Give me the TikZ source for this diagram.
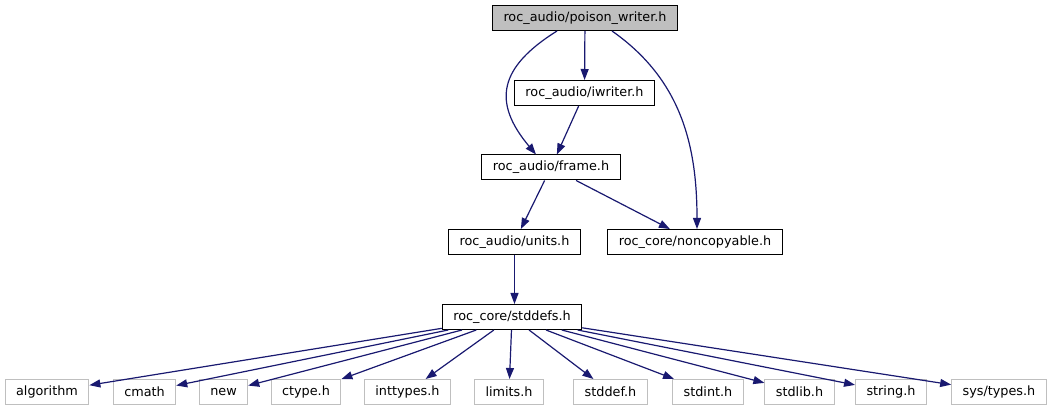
\documentclass[tikz,border=0pt]{standalone}
\usepackage{fontspec}
\setmainfont{DejaVu Sans}
\usetikzlibrary{arrows.meta,positioning}
\definecolor{edgeblue}{RGB}{25,25,112}
\definecolor{boxgray}{RGB}{191,191,191}

\begin{document}
\begin{tikzpicture}[x=1pt,y=-1pt,box/.style={draw,line width=1pt,minimum height=25pt,inner xsep=11pt,inner ysep=0pt,font=\fontsize{12.8}{14}\selectfont},sys/.style={box,draw=boxgray},dep/.style={-{Triangle[length=11pt,width=8pt]},draw=edgeblue,line width=1.2pt}]
\useasboundingbox(0,0)rectangle(1061,411);
\node[box,fill=boxgray](pw) at (585,18){roc\_audio/poison\_writer.h};
\node[box](iw) at (584.5,93){roc\_audio/iwriter.h};
\node[box](fr) at (551,167.5){roc\_audio/frame.h};
\node[box](un) at (514.5,242){roc\_audio/units.h};
\node[box](nc) at (695,242){roc\_core/noncopyable.h};
\node[box](sd) at (512,317){roc\_core/stddefs.h};
\node[sys](algorithm) at (47,392){algorithm};
\node[sys](cmath) at (144.5,392){cmath};
\node[sys](new) at (223.5,392){new};
\node[sys](ctype) at (306,392){ctype.h};
\node[sys](inttypes) at (407.5,392){inttypes.h};
\node[sys](limits) at (509,392){limits.h};
\node[sys](stddef) at (610.5,392){stddef.h};
\node[sys](stdint) at (708,392){stdint.h};
\node[sys](stdlib) at (799.5,392){stdlib.h};
\node[sys](string) at (891,392){string.h};
\node[sys](systypes) at (999,392){sys/types.h};
\draw[dep](pw)--(iw);
\draw[dep]([xshift=-28pt]pw.south)to[out=212,in=130,looseness=1.4]([xshift=-15pt]fr.north);
\draw[dep]([xshift=27pt]pw.south)to[out=-35,in=90]([xshift=2pt]nc.north);
\draw[dep](iw)--(fr);
\draw[dep](fr)--(un);
\draw[dep](fr)--(nc);
\draw[dep](un.south)--(un.south|-sd.north);
\foreach \h in {algorithm,cmath,new,ctype,inttypes,limits,stddef,stdint,stdlib,string,systypes}
  \draw[dep](sd)--(\h);
\end{tikzpicture}
\end{document}
